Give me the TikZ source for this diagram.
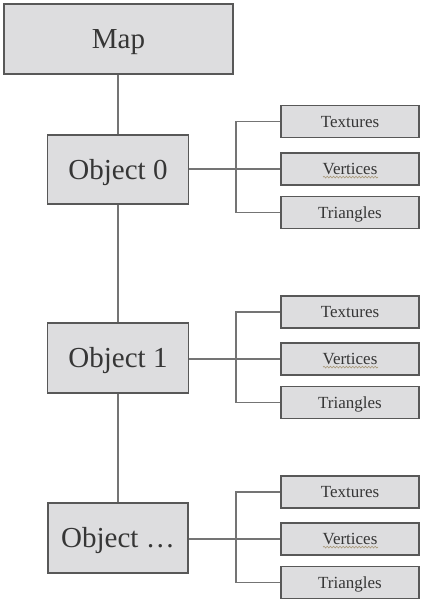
\documentclass[tikz,border=0pt]{standalone}
\usepackage{fontspec}
\setmainfont{Liberation Serif}
\usetikzlibrary{decorations.pathmorphing}
\definecolor{boxfill}{HTML}{DDDDDF}
\definecolor{boxedge}{HTML}{585858}
\definecolor{wire}{HTML}{747474}
\definecolor{ink}{HTML}{363636}
\definecolor{squiggle}{HTML}{A89878}
\tikzset{
  bigbox/.style={draw=boxedge, fill=boxfill, line width=1.3pt, inner sep=0pt,
    text=ink, font=\fontsize{29}{32}\selectfont, text height=19pt, text depth=0pt},
  partbox/.style={draw=boxedge, fill=boxfill, line width=1.3pt, inner sep=0pt,
    minimum width=138pt, minimum height=32pt, text=ink,
    font=\fontsize{17}{19}\selectfont, text height=11.2pt, text depth=0pt},
  wireline/.style={draw=wire, line width=1.2pt},
  spellmark/.style={draw=squiggle, line width=0.6pt,
    decorate, decoration={snake, amplitude=0.9pt, segment length=3.2pt}}
}
\begin{document}
\begin{tikzpicture}[x=1pt, y=-1pt]
  \useasboundingbox (0,0) rectangle (420,599);

  % main hierarchy
  \node[bigbox, minimum width=229pt, minimum height=70pt] (map) at (118.5,39) {Map};
  \node[bigbox, minimum width=141pt, minimum height=69pt] (obj0) at (118,169.5) {Object 0};
  \node[bigbox, minimum width=141pt, minimum height=70pt] (obj1) at (118,358) {Object 1};
  \node[bigbox, minimum width=140pt, minimum height=70pt] (obj2) at (118,538) {Object \dots};

  \draw[wireline] (map.south -| obj0.north) -- (obj0.north);
  \draw[wireline] (obj0.south) -- (obj1.north);
  \draw[wireline] (obj1.south) -- (obj2.north);

  % per-object parts: textures, vertices, triangles
  \foreach \i/\ty/\vy/\ry in {0/121.5/169/212.5, 1/312/359/402.5, 2/492/539/582.5} {
    \node[partbox] (tex\i) at (350,\ty) {Textures};
    \node[partbox] (ver\i) at (350,\vy) {Vertices};
    \node[partbox] (tri\i) at (350,\ry) {Triangles};
    \coordinate (fork\i) at (236,\vy);
    \draw[wireline] (obj\i.east |- ver\i.west) -- (ver\i.west);
    \draw[wireline] (tex\i.west) -| (fork\i) |- (tri\i.west);
    \draw[spellmark] ([xshift=-27pt, yshift=-2.5pt]ver\i.base) -- ([xshift=28pt, yshift=-2.5pt]ver\i.base);
  }
\end{tikzpicture}
\end{document}
